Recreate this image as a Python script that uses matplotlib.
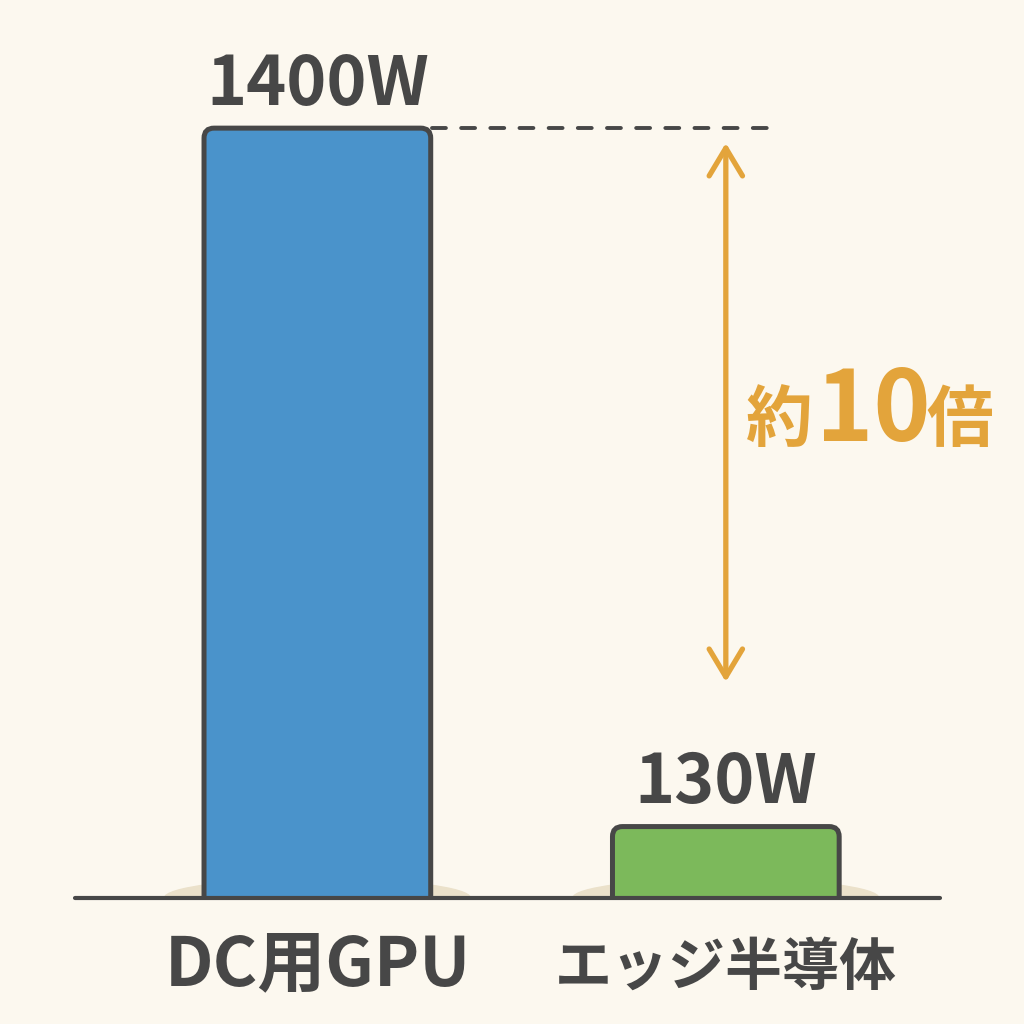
import matplotlib.pyplot as plt
from matplotlib.patches import FancyBboxPatch, Ellipse, Rectangle, FancyArrowPatch

plt.rcParams['font.family'] = ['Noto Sans CJK JP', 'DejaVu Sans']
plt.rcParams['lines.scale_dashes'] = False

# data
categories = ['DC用GPU', 'エッジ半導体']
power_w = [1400, 130]
value_labels = ['1400W', '130W']
ratio_parts = ['約', '10', '倍']

bg = '#fcf8ef'
ink = '#474747'
bar_colors = ['#4a93cb', '#7cb95b']
accent = '#e3a43b'

fig = plt.figure(figsize=(10.24, 10.24), dpi=100, facecolor=bg)
ax = fig.add_axes([0, 0, 1, 1])
ax.set_facecolor(bg)
ax.axis('off')

# pixel-matched limits (bars centred at x=0 and x=1)
xlim = (-0.777, 1.730)
ylim = (-229, 1633)
ax.set_xlim(*xlim)
ax.set_ylim(*ylim)

px_x = 1024 / (xlim[1] - xlim[0])
px_y = 1024 / (ylim[1] - ylim[0])

x = list(range(len(categories)))
bars = ax.bar(x, power_w, width=0.555)

above_base = Rectangle((xlim[0], 0), xlim[1] - xlim[0], ylim[1],
                       transform=ax.transData)

r_x = 10 / px_x
r_y = 10 / px_y
for b, c in zip(bars, bar_colors):
    bx, by, bw, bh = b.get_x(), b.get_y(), b.get_width(), b.get_height()
    b.remove()
    # soft shadow at the foot of each bar
    sh = Ellipse((bx + bw / 2, 0), bw * 1.35, 70, color='#ebe1ca', zorder=1)
    ax.add_patch(sh)
    sh.set_clip_path(above_base)
    p = FancyBboxPatch((bx, by - r_y), bw, bh + r_y,
                       boxstyle=f'round,pad=0,rounding_size={r_x}',
                       mutation_aspect=r_y / r_x,
                       fc=c, ec=ink, lw=3.6, zorder=3)
    ax.add_patch(p)
    p.set_clip_path(above_base)

# baseline
ax.plot([-0.594, 1.524], [0, 0], color=ink, lw=3, solid_capstyle='round', zorder=4)

# value labels above bars
for xi, v, lab in zip(x, power_w, value_labels):
    ax.annotate(lab, (xi, v), xytext=(0, 17), textcoords='offset points',
                ha='center', va='baseline', fontsize=49, fontweight='bold',
                color=ink)

# category labels
ax.text(x[0], -158, categories[0], ha='center', va='baseline',
        fontsize=49, fontweight='bold', color=ink)
ax.text(x[1], -158, categories[1], ha='center', va='baseline',
        fontsize=41, fontweight='bold', color=ink)

# dashed reference line from the tall bar
ax.plot([0.28, 1.12], [power_w[0], power_w[0]], color=ink, lw=2.8,
        dashes=(10, 11), dash_capstyle='round', zorder=2)

# double-headed arrow
arr = FancyArrowPatch((1.0, power_w[0] - 27), (1.0, 393),
                      arrowstyle='<->,head_length=1.0,head_width=0.6',
                      mutation_scale=20, color=accent, lw=3.8,
                      shrinkA=0, shrinkB=0, capstyle='round', joinstyle='round')
ax.add_patch(arr)

# ratio text
ax.text(1.050, 831, ratio_parts[0], ha='left', va='baseline',
        fontsize=48, fontweight='bold', color=accent)
ax.text(1.220, 831, ratio_parts[1], ha='left', va='baseline',
        fontsize=70, fontweight='bold', color=accent)
ax.text(1.492, 831, ratio_parts[2], ha='left', va='baseline',
        fontsize=48, fontweight='bold', color=accent)

fig.savefig('out.png', dpi=100, facecolor=bg)
